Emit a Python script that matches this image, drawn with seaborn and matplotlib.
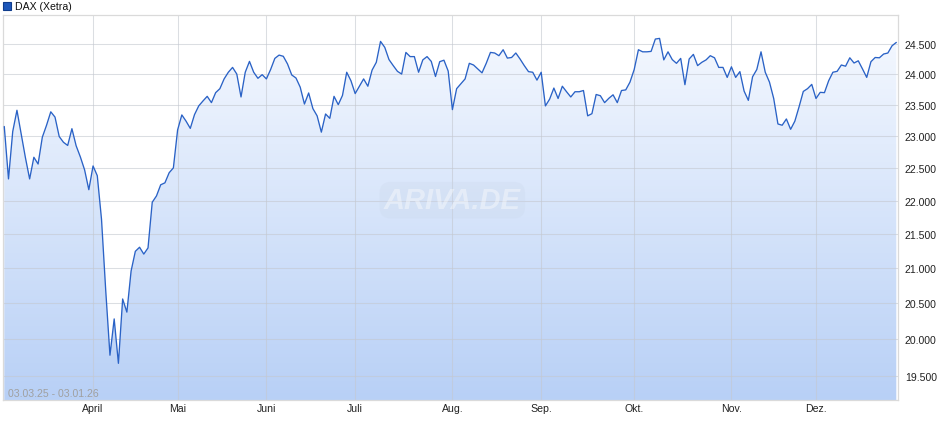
"""DAX (Xetra) one-year line chart, ariva style."""
import numpy as np
import pandas as pd
import matplotlib
matplotlib.use("Agg")
import matplotlib.pyplot as plt
import matplotlib.ticker as mticker
from matplotlib.colors import LinearSegmentedColormap
from matplotlib.patches import Rectangle
import seaborn as sns

# daily closes, one row per month (Mar 2025 .. Jan 2026)
dax_close = [
    23150, 22330, 23070, 23410, 23030, 22660, 22330, 22665, 22560, 22980,
    23170, 23385, 23300, 22990, 22900, 22850, 23115, 22845, 22670, 22470, 22165,
    22530, 22380, 21720, 20680, 19780, 20280, 19670, 20560, 20375, 20960,
    21245, 21305, 21205, 21295, 21975, 22070, 22240, 22270, 22425, 22500,
    23095, 23335, 23235, 23120, 23340, 23480, 23560, 23635, 23533, 23695,
    23760, 23920, 24030, 24110, 24000, 23625, 24030, 24210, 24030, 23930, 23990,
    23920, 24075, 24260, 24315, 24295, 24167, 23985, 23935, 23785, 23510,
    23690, 23437, 23320, 23060, 23350, 23280, 23635, 23500, 23650, 24030, 23890,
    23680, 23800, 23920, 23800, 24065, 24195, 24545, 24445, 24240, 24140,
    24045, 24000, 24360, 24290, 24290, 24030, 24235, 24290, 24210, 23960,
    24205, 24230, 24050,
    23420, 23760, 23840, 23920, 24178, 24150, 24085, 24020, 24178, 24360,
    24350, 24305, 24405, 24265, 24275, 24350, 24250, 24140, 24040, 24030, 23900,
    24030, 23480, 23590, 23770, 23600, 23800, 23710, 23625, 23710, 23710,
    23730, 23320, 23355, 23665, 23645, 23533, 23603, 23660, 23533, 23730,
    23740, 23867,
    24075, 24405, 24370, 24370, 24377, 24585, 24596, 24235, 24370, 24240,
    24178, 24260, 23825, 24250, 24327, 24140, 24195, 24235, 24305, 24270,
    24110, 24110, 23945,
    24120, 23945, 24040, 23720, 23570, 23955, 24075, 24370, 24030, 23867,
    23600, 23190, 23170, 23270, 23105, 23235, 23466, 23715, 23760, 23830,
    23600, 23700, 23695, 23890, 24030, 24045, 24150, 24130, 24270, 24183,
    24220, 24085, 23945, 24205, 24275, 24270, 24333, 24350, 24472,
    24528,
]
xetra_holidays = ["2025-04-18", "2025-04-21", "2025-05-01", "2025-12-24",
                  "2025-12-25", "2025-12-26", "2025-12-31", "2026-01-01"]
month_labels = ["April", "Mai", "Juni", "Juli", "Aug.", "Sep.", "Okt.", "Nov.", "Dez."]
y_ticks = [19500, 20000, 20500, 21000, 21500, 22000, 22500, 23000, 23500, 24000, 24500]
series_label = "DAX (Xetra)"
period_label = "03.03.25 - 03.01.26"

days = pd.bdate_range("2025-03-03", "2026-01-02")
days = days[~days.isin(pd.to_datetime(xetra_holidays))]
df = pd.DataFrame({"date": days, "close": dax_close})
df["idx"] = np.arange(len(df))
first_idx = df.groupby(df["date"].dt.to_period("M"))["idx"].min().values
month_ticks = first_idx[1:10]

sns.set_theme(style="white")
plt.rcParams["font.family"] = ["Liberation Sans", "DejaVu Sans"]

fig = plt.figure(figsize=(9.4, 4.35), dpi=100)
ax = fig.add_axes([3 / 940, 34 / 435, 895 / 940, 385 / 435])
ax.set_yscale("log")
xlo, xhi = -0.3, 211.4
ylo, yhi = 19180, 24995

# gradient area under the line
fill = ax.fill_between(df["idx"], df["close"], 19000, facecolor="none", edgecolor="none")
grad = np.linspace(0, 1, 256).reshape(-1, 1)
cmap = LinearSegmentedColormap.from_list("dax_fill", ["#b8d0f6", "#f7faff"])
img = ax.imshow(grad, extent=[0, 1, 0, 1], transform=ax.transAxes, origin="lower",
                aspect="auto", cmap=cmap, zorder=1)
img.set_clip_path(fill.get_paths()[0], ax.transData)

sns.lineplot(data=df, x="idx", y="close", color="#2a62c6", linewidth=0.95, ax=ax, zorder=3)

ax.set_xlim(xlo, xhi)
ax.set_ylim(ylo, yhi)
ax.set_xlabel("")
ax.set_ylabel("")

ax.yaxis.tick_right()
ax.set_yticks(y_ticks)
ax.yaxis.set_minor_locator(mticker.NullLocator())
ax.yaxis.set_major_formatter(mticker.FuncFormatter(lambda v, p: f"{v:,.0f}".replace(",", ".")))
ax.set_xticks(month_ticks, month_labels)
ax.tick_params(length=0, labelsize=7.6, colors="#222222")
ax.tick_params(axis="y", pad=5)
ax.tick_params(axis="x", pad=2.5)

ax.set_axisbelow("line")
ax.grid(True, color="#c4c8d0", alpha=0.6, linewidth=0.75)
for s in ax.spines.values():
    s.set_color("#dadada")
    s.set_linewidth(0.9)

ax.text(0.006, 0.006, period_label, transform=ax.transAxes, ha="left", va="bottom",
        fontsize=7.6, color="#a0a0a0", zorder=4)
ax.text(0.502, 0.519, "ARIVA.DE", transform=ax.transAxes, ha="center", va="center",
        fontsize=21, fontweight="bold", style="italic", color="white", alpha=0.4,
        bbox=dict(boxstyle="round,pad=0.15,rounding_size=0.4", facecolor="#c9d6ea",
                  edgecolor="none", alpha=0.25), zorder=2)

fig.patches.append(Rectangle((3 / 940, 1 - 11 / 435), 8 / 940, 8 / 435, transform=fig.transFigure,
                             facecolor="#1c56b9", edgecolor="#0f3c8c", linewidth=0.8))
fig.text(15 / 940, 1 - 7 / 435, series_label, va="center", fontsize=7.6, color="#111111")

fig.savefig("out.png", dpi=100, facecolor="white")
